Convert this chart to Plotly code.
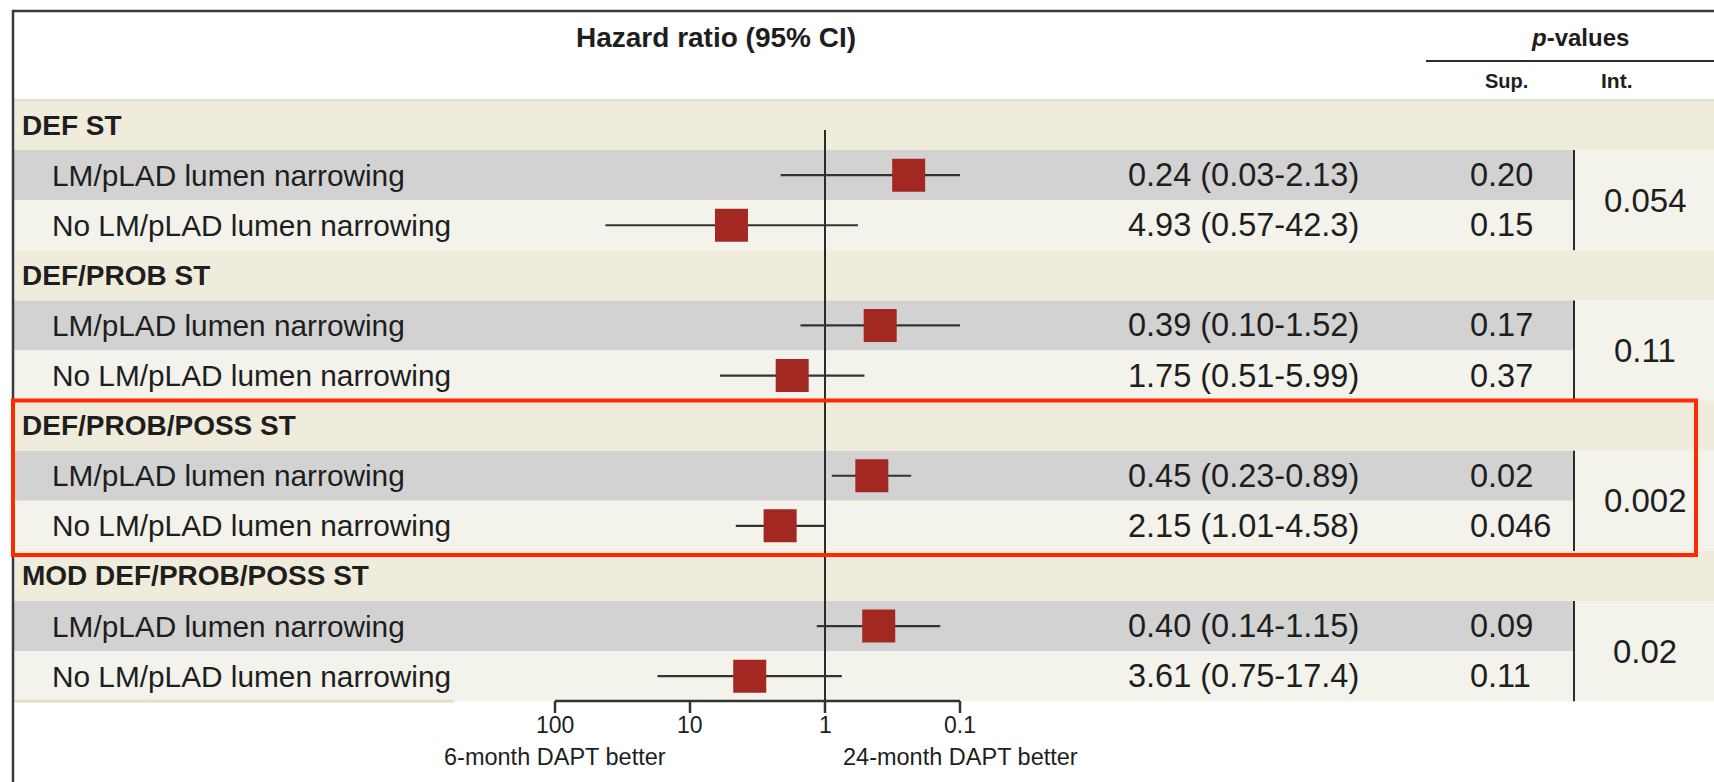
import numpy as np
import plotly.graph_objects as go

W, H = 1714, 782

# ---------------- data ----------------
groups = ["DEF ST", "DEF/PROB ST", "DEF/PROB/POSS ST", "MOD DEF/PROB/POSS ST"]
subgroups = ["LM/pLAD lumen narrowing", "No LM/pLAD lumen narrowing"]
hr = [0.24, 4.93, 0.39, 1.75, 0.45, 2.15, 0.40, 3.61]
ci_low = [0.03, 0.57, 0.10, 0.51, 0.23, 1.01, 0.14, 0.75]
ci_high = [2.13, 42.3, 1.52, 5.99, 0.89, 4.58, 1.15, 17.4]
hr_text = ["0.24 (0.03-2.13)", "4.93 (0.57-42.3)", "0.39 (0.10-1.52)", "1.75 (0.51-5.99)",
           "0.45 (0.23-0.89)", "2.15 (1.01-4.58)", "0.40 (0.14-1.15)", "3.61 (0.75-17.4)"]
p_sup = ["0.20", "0.15", "0.17", "0.37", "0.02", "0.046", "0.09", "0.11"]
p_int = ["0.054", "0.11", "0.002", "0.02"]
tick_vals = [100, 10, 1, 0.1]
tick_text = ["100", "10", "1", "0.1"]
side_labels = ["6-month DAPT better", "24-month DAPT better"]
side_label_at = [100, 0.1]
highlight_group = 2

# ---------------- geometry / style ----------------
BAND_TOP = 100.0
PITCH = 50.1
HR1_PX = 825.0
DECADE_PX = 135.0
XMIN_HR, XMAX_HR = 0.1, 100.0

def y_of_px(p):
    return (p - BAND_TOP) / PITCH - 0.5

def xp(p):
    return p / W

def yp(p):
    return 1 - p / H

x_range = [HR1_PX / DECADE_PX, -(W - HR1_PX) / DECADE_PX]
y_range = [y_of_px(H), y_of_px(0)]

C_HEAD = "#efecdc"
C_GRAY = "#d2d2d2"
C_LIGHT = "#f3f2eb"
C_LINE = "#2b2b2b"
C_SQ = "#a42822"
C_RED = "#ff2a00"

F_REG = "Liberation Sans, Arial, sans-serif"
F_BOLD = "Liberation Sans, Arial, sans-serif"
TXT = "#1e1e1e"

fig = go.Figure()
shapes = []
ann = []

n_rows = len(groups) * 3
row_of_sub = []
for gi in range(len(groups)):
    row_of_sub += [3 * gi + 1, 3 * gi + 2]

BRACKET_PX = 1574
LEFT_PX = 14

# bands
for r in range(n_rows):
    y0, y1 = r - 0.5, r + 0.5
    kind = r % 3
    if kind == 0:
        shapes.append(dict(type="rect", xref="paper", yref="y", x0=xp(LEFT_PX), x1=1, y0=y0, y1=y1,
                           fillcolor=C_HEAD, line_width=0, layer="below"))
    elif kind == 1:
        shapes.append(dict(type="rect", xref="paper", yref="y", x0=xp(LEFT_PX), x1=xp(BRACKET_PX), y0=y0, y1=y1,
                           fillcolor=C_GRAY, line_width=0, layer="below"))
        shapes.append(dict(type="rect", xref="paper", yref="y", x0=xp(BRACKET_PX), x1=1, y0=y0, y1=y1,
                           fillcolor=C_LIGHT, line_width=0, layer="below"))
    else:
        shapes.append(dict(type="rect", xref="paper", yref="y", x0=xp(LEFT_PX), x1=1, y0=y0, y1=y1,
                           fillcolor=C_LIGHT, line_width=0, layer="below"))

# separator under header area
shapes.append(dict(type="line", xref="paper", yref="y", x0=xp(LEFT_PX), x1=1, y0=-0.5, y1=-0.5,
                   line=dict(color="#e2dec6", width=2), layer="below"))
# beige line under last row (left part)
shapes.append(dict(type="line", xref="paper", yref="y", x0=xp(LEFT_PX), x1=xp(454),
                   y0=n_rows - 0.5, y1=n_rows - 0.5, line=dict(color="#e6e2c8", width=3), layer="below"))

# frame
shapes.append(dict(type="line", xref="paper", yref="paper", x0=xp(12), x1=1, y0=yp(11), y1=yp(11),
                   line=dict(color="#3a3a3a", width=2.5)))
shapes.append(dict(type="line", xref="paper", yref="paper", x0=xp(13), x1=xp(13), y0=yp(10), y1=0,
                   line=dict(color="#3a3a3a", width=2.5)))

# rule under p-values
shapes.append(dict(type="line", xref="paper", yref="paper", x0=xp(1426), x1=1, y0=yp(61), y1=yp(61),
                   line=dict(color="#2b2b2b", width=2)))

# interaction brackets
for gi in range(len(groups)):
    shapes.append(dict(type="line", xref="paper", yref="y", x0=xp(BRACKET_PX), x1=xp(BRACKET_PX),
                       y0=3 * gi + 0.5, y1=3 * gi + 2.5, line=dict(color=C_LINE, width=2)))

# highlight box
shapes.append(dict(type="rect", xref="paper", yref="y", x0=xp(13), x1=xp(1696),
                   y0=3 * highlight_group - 0.5, y1=3 * highlight_group + 2.58,
                   line=dict(color=C_RED, width=4), fillcolor="rgba(0,0,0,0)"))

# ---------------- forest traces ----------------
axis_y = y_of_px(701)
tick_len = 12 / PITCH

# reference line at HR = 1
fig.add_trace(go.Scatter(x=[1, 1], y=[y_of_px(130), axis_y + tick_len], mode="lines",
                         line=dict(color=C_LINE, width=2), hoverinfo="skip", showlegend=False))

# CI whiskers (clipped to the axis limits)
cx, cy = [], []
for i, r in enumerate(row_of_sub):
    lo = min(max(ci_low[i], XMIN_HR), XMAX_HR)
    hi = min(max(ci_high[i], XMIN_HR), XMAX_HR)
    cx += [lo, hi, None]
    cy += [r, r, None]
fig.add_trace(go.Scatter(x=cx, y=cy, mode="lines", line=dict(color="#333333", width=2.2),
                         hoverinfo="skip", showlegend=False))

# point estimates
fig.add_trace(go.Scatter(x=hr, y=row_of_sub, mode="markers",
                         marker=dict(symbol="square", size=33, color=C_SQ, line=dict(width=0)),
                         showlegend=False))

# bottom axis
fig.add_trace(go.Scatter(x=[max(tick_vals), min(tick_vals)], y=[axis_y, axis_y], mode="lines",
                         line=dict(color="#333333", width=2.5), hoverinfo="skip", showlegend=False))
tx, ty = [], []
for v in tick_vals:
    tx += [v, v, None]
    ty += [axis_y, axis_y + tick_len, None]
fig.add_trace(go.Scatter(x=tx, y=ty, mode="lines", line=dict(color="#333333", width=2.5),
                         hoverinfo="skip", showlegend=False))

for v, t in zip(tick_vals, tick_text):
    ann.append(dict(x=np.log10(v), y=y_of_px(725), xref="x", yref="y", text=t, showarrow=False,
                    xanchor="center", yanchor="middle",
                    font=dict(family=F_REG, size=23, color=TXT)))
for v, t in zip(side_label_at, side_labels):
    ann.append(dict(x=np.log10(v), y=y_of_px(757), xref="x", yref="y", text=t, showarrow=False,
                    xanchor="center", yanchor="middle",
                    font=dict(family=F_REG, size=23.5, color=TXT)))

# ---------------- text ----------------
ann.append(dict(x=xp(716), y=yp(38), xref="paper", yref="paper", text="<b>Hazard ratio (95% CI)</b>",
                showarrow=False, xanchor="center", yanchor="middle",
                font=dict(family=F_BOLD, size=28, color=TXT)))
ann.append(dict(x=xp(1580), y=yp(38), xref="paper", yref="paper", text="<b><i>p</i>-values</b>",
                showarrow=False, xanchor="center", yanchor="middle",
                font=dict(family=F_BOLD, size=24, color=TXT)))
ann.append(dict(x=xp(1506), y=yp(81), xref="paper", yref="paper", text="<b>Sup.</b>",
                showarrow=False, xanchor="center", yanchor="middle",
                font=dict(family=F_BOLD, size=20, color=TXT)))
ann.append(dict(x=xp(1617), y=yp(81), xref="paper", yref="paper", text="<b>Int.</b>",
                showarrow=False, xanchor="center", yanchor="middle",
                font=dict(family=F_BOLD, size=21, color=TXT)))

for gi, g in enumerate(groups):
    ann.append(dict(x=xp(20), y=3 * gi, xref="paper", yref="y", text="<b>" + g + "</b>",
                    showarrow=False, xanchor="left", yanchor="middle",
                    font=dict(family=F_BOLD, size=28, color=TXT)))
    ann.append(dict(x=xp(1645), y=3 * gi + 1.5, xref="paper", yref="y", text=p_int[gi],
                    showarrow=False, xanchor="center", yanchor="middle",
                    font=dict(family=F_REG, size=33, color=TXT)))

for i, r in enumerate(row_of_sub):
    ann.append(dict(x=xp(50), y=r, xref="paper", yref="y", text=subgroups[i % 2],
                    showarrow=False, xanchor="left", yanchor="middle",
                    font=dict(family=F_REG, size=29.8, color=TXT)))
    ann.append(dict(x=xp(1126), y=r, xref="paper", yref="y", text=hr_text[i],
                    showarrow=False, xanchor="left", yanchor="middle",
                    font=dict(family=F_REG, size=32.5, color=TXT)))
    ann.append(dict(x=xp(1468), y=r, xref="paper", yref="y", text=p_sup[i],
                    showarrow=False, xanchor="left", yanchor="middle",
                    font=dict(family=F_REG, size=32.5, color=TXT)))

fig.update_layout(
    width=W, height=H, autosize=False,
    margin=dict(l=0, r=0, t=0, b=0),
    paper_bgcolor="white", plot_bgcolor="white",
    xaxis=dict(type="log", range=x_range, visible=False, showgrid=False, zeroline=False, domain=[0, 1]),
    yaxis=dict(range=y_range, visible=False, showgrid=False, zeroline=False, domain=[0, 1]),
    shapes=shapes, annotations=ann, showlegend=False,
)

fig.write_html("out.html")
